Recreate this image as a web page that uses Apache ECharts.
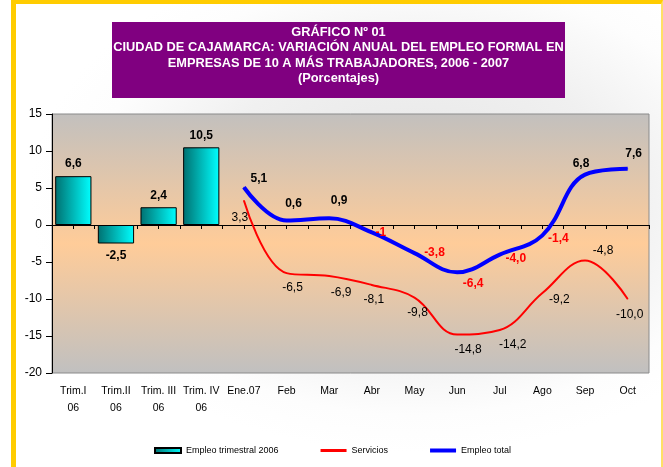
<!DOCTYPE html>
<html>
<head>
<meta charset="utf-8">
<script src="https://cdn.jsdelivr.net/npm/echarts@6/dist/echarts.min.js"></script>
<style>
  html, body { margin: 0; padding: 0; background: #fff; }
  .frame {
    position: absolute; left: 11px; top: 0; width: 652px; height: 467px;
    box-sizing: border-box;
    border-top: 4px solid #ffcc00;
    border-left: 5px solid #ffcc00;
    border-right: 2px solid #ffe066;
    background: radial-gradient(ellipse 60% 55% at 62% 42%, #e4e4e4 0%, #f0f0f0 55%, #fdfdfd 85%, #ffffff 100%);
  }
  #main { position: absolute; left: 0; top: 0; width: 663px; height: 467px; }
</style>
</head>
<body>
<div class="frame"></div>
<div id="main"></div>
<script>
// categorías del eje X
const categories = ["Trim.I\n06", "Trim.II\n06", "Trim. III\n06", "Trim. IV\n06", "Ene.07", "Feb", "Mar", "Abr", "May", "Jun", "Jul", "Ago", "Sep", "Oct"];
// series
const empleoTrimestral = [6.6, -2.5, 2.4, 10.5, null, null, null, null, null, null, null, null, null, null];
const servicios = [null, null, null, null, 3.3, -6.5, -6.9, -8.1, -9.8, -14.8, -14.2, -9.2, -4.8, -10.0];
const empleoTotal = [null, null, null, null, 5.1, 0.6, 0.9, -1, -3.8, -6.4, -4.0, -1.4, 6.8, 7.6];
// eje Y
const yMin = -20;
const yMax = 15;
const yStep = 5;

// desplazamiento de etiquetas (estilo)
const totalOffsets = [[15, -9], [7, -17], [10, -18], [9, 0], [20, 0], [16, 11], [16, 4], [16, 3], [-4, -11], [6, -15]];
const serviciosOffsets = [[-4, 17], [6, 15], [12, 17], [2, 15], [3, 15], [11, 15], [13, 15], [17, 7], [18, -10], [2, 16]];

const FONT = "Liberation Sans, Arial, sans-serif";
const comma = (v) => v.toFixed(1).replace(".", ",");

const myChart = echarts.init(document.getElementById("main"), null, { renderer: "canvas" });

const option = {
  backgroundColor: "transparent",
  animation: false,
  graphic: [
    {
      type: "rect",
      shape: { x: 112, y: 22, width: 453, height: 76 },
      style: { fill: "#800080" },
      z: 0,
    },
    {
      type: "text",
      x: 338.5,
      y: 25,
      style: {
        text: "GRÁFICO Nº 01\nCIUDAD DE CAJAMARCA: VARIACIÓN ANUAL DEL EMPLEO FORMAL EN\nEMPRESAS DE 10 A MÁS TRABAJADORES, 2006 - 2007\n(Porcentajes)",
        fill: "#ffffff",
        font: "bold 12.8px " + FONT,
        align: "center",
        verticalAlign: "top",
        lineHeight: 15.3,
      },
      z: 1,
    },
  ],
  grid: {
    left: 52,
    top: 114,
    width: 597,
    height: 259,
    show: true,
    borderColor: "#8a8a8a",
    borderWidth: 1,
    backgroundColor: new echarts.graphic.LinearGradient(0, 0, 0, 1, [
      { offset: 0, color: "#c2c0be" },
      { offset: 0.5, color: "#ffcc99" },
      { offset: 1, color: "#c0c0c0" },
    ]),
  },
  legend: {
    left: 154,
    top: 446,
    padding: 0,
    itemWidth: 26,
    itemHeight: 5,
    itemGap: 42,
    selectedMode: false,
    textStyle: { fontFamily: FONT, fontSize: 9, color: "#000" },
    data: [
      { name: "Empleo trimestral 2006", icon: "rect" },
      { name: "Servicios", icon: "path://M0,0H26V3H0Z" },
      { name: "Empleo total", icon: "path://M0,0H26V4H0Z" },
    ],
  },
  xAxis: [
    {
      type: "category",
      data: categories,
      position: "bottom",
      axisLine: { show: false, onZero: false },
      axisTick: { show: false },
      axisLabel: {
        interval: 0,
        margin: 10,
        fontFamily: FONT,
        fontSize: 10.5,
        lineHeight: 17,
        color: "#000",
      },
    },
    {
      // línea del cero con marcas
      type: "category",
      data: categories.concat(categories).map(() => ""),
      position: "top",
      axisLine: { show: true, onZero: true, lineStyle: { color: "#000", width: 1 } },
      axisTick: { show: true, inside: true, length: 4, lineStyle: { color: "#000" } },
      axisLabel: { show: false },
    },
  ],
  yAxis: {
    type: "value",
    min: yMin,
    max: yMax,
    interval: yStep,
    splitLine: { show: false },
    axisLine: { show: true, lineStyle: { color: "#000", width: 1 } },
    axisTick: { show: true, length: 6, lineStyle: { color: "#000" } },
    axisLabel: { fontFamily: FONT, fontSize: 12, color: "#000", margin: 10 },
  },
  series: [
    {
      name: "Empleo trimestral 2006",
      type: "bar",
      xAxisIndex: 0,
      barCategoryGap: "15%",
      data: empleoTrimestral.map((v) =>
        v == null ? null : { value: v, label: { position: v < 0 ? "bottom" : "top" } }
      ),
      itemStyle: {
        color: new echarts.graphic.LinearGradient(0, 0, 1, 0, [
          { offset: 0, color: "#007070" },
          { offset: 1, color: "#00ffff" },
        ]),
        borderColor: "#000",
        borderWidth: 1,
      },
      label: {
        show: true,
        distance: 6,
        fontFamily: FONT,
        fontSize: 12,
        fontWeight: "bold",
        color: "#000",
        formatter: (p) => comma(p.value),
      },
    },
    {
      name: "Servicios",
      type: "line",
      xAxisIndex: 0,
      smooth: 0.4,
      symbol: "circle",
      symbolSize: 1,
      lineStyle: { color: "#ff0000", width: 2 },
      itemStyle: { color: "#ff0000" },
      data: servicios.map((v, i) =>
        v == null ? null : { value: v, label: { offset: serviciosOffsets[i - 4] } }
      ),
      label: {
        show: true,
        position: "inside",
        fontFamily: FONT,
        fontSize: 12,
        color: "#000",
        formatter: (p) => comma(p.value),
      },
      z: 3,
    },
    {
      name: "Empleo total",
      type: "line",
      xAxisIndex: 0,
      smooth: 0.4,
      symbol: "circle",
      symbolSize: 1,
      lineStyle: { color: "#0000ff", width: 4 },
      itemStyle: { color: "#0000ff" },
      data: empleoTotal.map((v, i) =>
        v == null
          ? null
          : { value: v, label: { offset: totalOffsets[i - 4], color: v < 0 ? "#ff0000" : "#000" } }
      ),
      label: {
        show: true,
        position: "inside",
        fontFamily: FONT,
        fontSize: 12,
        fontWeight: "bold",
        // en el original, Abr aparece sin decimal
        formatter: (p) => (categories[p.dataIndex] === "Abr" ? String(p.value) : comma(p.value)),
      },
      z: 4,
    },
  ],
};

myChart.setOption(option);
</script>
</body>
</html>
